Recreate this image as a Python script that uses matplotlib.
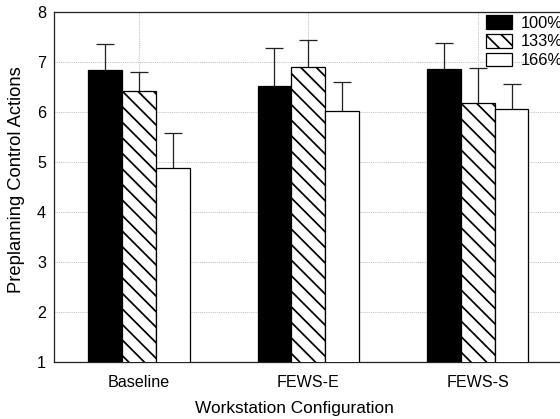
import numpy as np
import matplotlib
matplotlib.use("Agg")
import matplotlib.pyplot as plt

plt.rcParams['font.family'] = ['Liberation Sans', 'DejaVu Sans']
plt.rcParams['hatch.linewidth'] = 0.9

configs = ['Baseline', 'FEWS-E', 'FEWS-S']
levels = ['100%', '133%', '166%']

# mean preplanning control actions per configuration, one list per level
means_100 = [6.83, 6.51, 6.86]
means_133 = [6.42, 6.90, 6.17]
means_166 = [4.88, 6.01, 6.05]

err_100 = [0.53, 0.76, 0.51]
err_133 = [0.37, 0.54, 0.71]
err_166 = [0.69, 0.60, 0.50]

DPI = 140
fig = plt.figure(figsize=(560 / DPI, 419 / DPI), dpi=DPI)
ax = fig.add_axes([54.3 / 560, 1 - 362 / 419, 508 / 560, 350 / 419])

x = np.arange(1, len(configs) + 1)
w = 0.2
styles = [
    dict(color='black', hatch=None),
    dict(color='white', hatch='\\\\\\'),
    dict(color='white', hatch=None),
]
series = [(means_100, err_100), (means_133, err_133), (means_166, err_166)]

for i, ((m, e), st, lab) in enumerate(zip(series, styles, levels)):
    pos = x + (i - 1) * w
    ax.errorbar(pos, m, yerr=e, fmt='none', ecolor='#222222', elinewidth=0.65,
                capsize=4.4, capthick=0.65, zorder=2)
    ax.bar(pos, m, width=w, bottom=0, facecolor=st['color'], edgecolor='black',
           linewidth=0.65, hatch=st['hatch'], label=lab, zorder=3)

ax.set_xlim(0.5, 3.5)
ax.set_ylim(1, 8)
ax.set_yticks(range(1, 9))
ax.set_xticks(x)
ax.set_xticklabels(configs)
ax.tick_params(length=0, labelsize=8.3)
ax.tick_params(axis='y', pad=4.3)
ax.tick_params(axis='x', pad=6.9)

ax.grid(True, color='#c4c4c4', linestyle=(0, (1, 1)), linewidth=0.55, zorder=0)
ax.set_axisbelow(True)
for s in ax.spines.values():
    s.set_linewidth(0.65)
    s.set_color('#222222')

ax.set_xlabel('Workstation Configuration', fontsize=8.85)
ax.xaxis.set_label_coords(0.472, -0.112)
ax.set_ylabel('Preplanning Control Actions', fontsize=9.45)
ax.yaxis.set_label_coords(-0.0567, 0.52)

leg = fig.legend(loc='upper left', bbox_to_anchor=(486 / 560, 1 - 15 / 419),
                 frameon=False, fontsize=8.4, borderpad=0, borderaxespad=0,
                 handlelength=1.6, handleheight=0.92, handletextpad=0.52,
                 labelspacing=0.2)

fig.savefig('out.png', dpi=DPI)
